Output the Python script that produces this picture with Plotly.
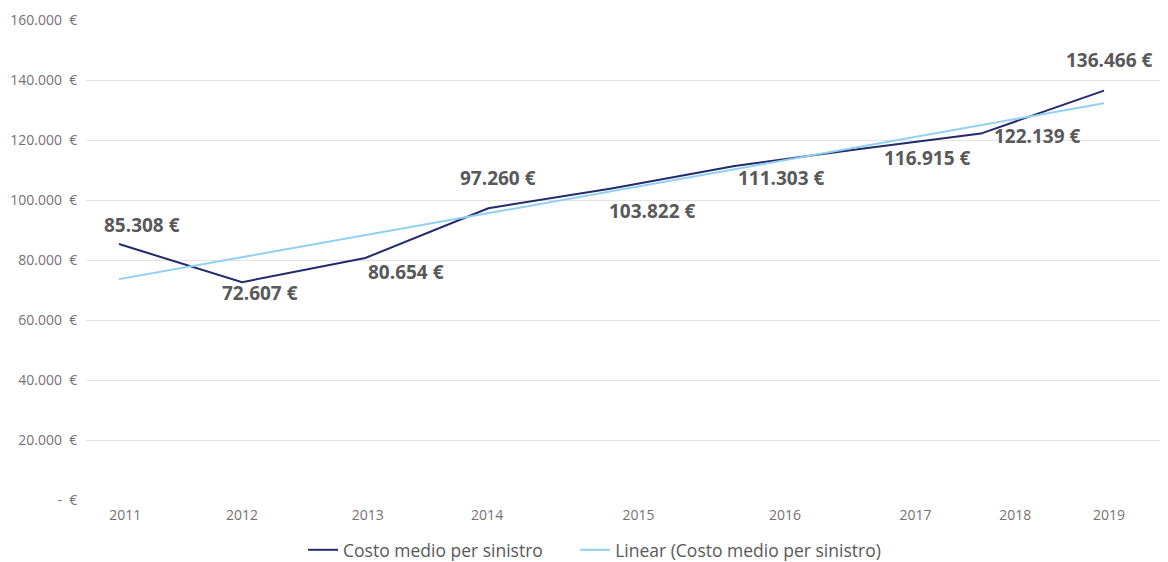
import numpy as np
import plotly.graph_objects as go

# data
anni = ["2011", "2012", "2013", "2014", "2015", "2016", "2017", "2018", "2019"]
costo_medio = [85308, 72607, 80654, 97260, 103822, 111303, 116915, 122139, 136466]
y_ticks = [0, 20000, 40000, 60000, 80000, 100000, 120000, 140000, 160000]
y_tick_text = ["-  €", "20.000  €", "40.000  €", "60.000  €", "80.000  €",
               "100.000  €", "120.000  €", "140.000  €", "160.000  €"]

x = list(range(len(anni)))

# linear trendline (as excel does)
slope, intercept = np.polyfit(x, costo_medio, 1)
trend = [slope * i + intercept for i in x]

def eur(v):
    return f"{v:,}".replace(",", ".") + " €"

# label offsets (px) as placed in the original
lbl_dx = [23, 18, 41, 10, 41, 47, 70, 57, 6]
lbl_dy = [19, -11, -14, 30, -22, -12, -9, -2, 31]
# tick labels drawn slightly off-center in the original
tick_pos = [0.05, 1.0, 2.02, 2.99, 4.22, 5.41, 6.47, 7.28, 8.04]

fig = go.Figure()
fig.add_trace(go.Scatter(
    x=x, y=costo_medio, mode="lines",
    name="Costo medio per sinistro" + "\u00a0" * 6,  # extra gap between legend items
    line=dict(color="#232a6b", width=2)))
fig.add_trace(go.Scatter(
    x=x, y=trend, mode="lines",
    name="Linear (Costo medio per sinistro)",
    line=dict(color="#8fd0f3", width=2)))

for i, v in enumerate(costo_medio):
    fig.add_annotation(x=x[i], y=v, text="<b>" + eur(v) + "</b>",
                       showarrow=False, xshift=lbl_dx[i], yshift=lbl_dy[i],
                       font=dict(family="Open Sans", size=19, color="#595959"))

# page body has an 8px margin, so the figure is a bit smaller than the window
fig.update_layout(
    width=1160, height=554,
    margin=dict(l=78, r=0, t=12, b=62, autoexpand=False),
    paper_bgcolor="white", plot_bgcolor="white",
    font=dict(family="Open Sans", size=14, color="#767171"),
    showlegend=True,
    legend=dict(orientation="h", x=0.47, xanchor="center", y=-0.104, yanchor="middle",
                font=dict(size=17.5, color="#595959"), itemwidth=30),
)
fig.update_xaxes(range=[-0.268, 8.52], tickvals=tick_pos, ticktext=anni,
                 showgrid=False, zeroline=False, showline=False, automargin=False,
                 ticks="outside", ticklen=2, tickcolor="white",
                 tickfont=dict(size=14, color="#767171"))
fig.update_yaxes(range=[0, 160000], tickvals=y_ticks, ticktext=y_tick_text,
                 showgrid=True, gridcolor="#e3e3e3", gridwidth=1.2,
                 zeroline=False, showline=False, automargin=False,
                 ticks="outside", ticklen=5, tickcolor="white",
                 tickfont=dict(size=14, color="#767171"))

fig.write_html("out.html")
